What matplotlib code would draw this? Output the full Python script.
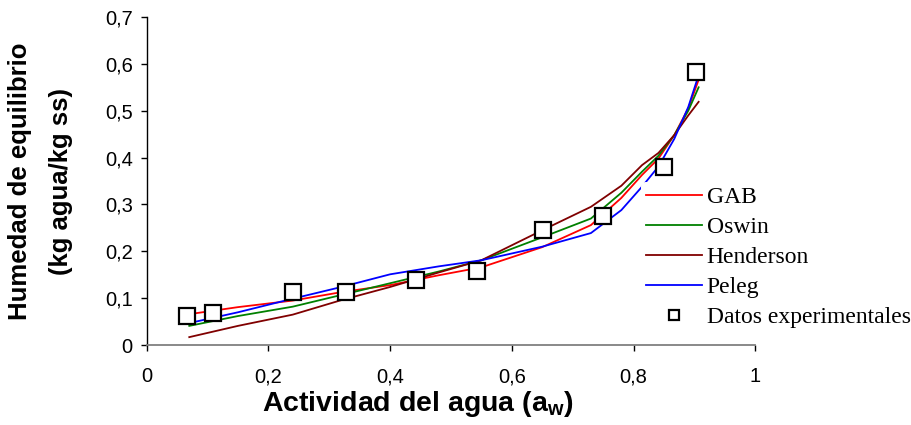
import numpy as np
import matplotlib.pyplot as plt
from matplotlib.ticker import FuncFormatter

# ── datos ──
aw_exp = [0.066, 0.109, 0.240, 0.327, 0.442, 0.543, 0.652, 0.750, 0.850, 0.903]
m_exp = [0.062, 0.068, 0.113, 0.113, 0.139, 0.158, 0.246, 0.275, 0.380, 0.582]

aw_mod = [0.07, 0.15, 0.24, 0.32, 0.40, 0.48, 0.55, 0.65, 0.73, 0.78,
          0.814, 0.841, 0.867, 0.89, 0.907]
gab = [0.066, 0.081, 0.095, 0.113, 0.128, 0.149, 0.166, 0.209, 0.256, 0.314,
       0.363, 0.398, 0.448, 0.505, 0.566]
oswin = [0.041, 0.062, 0.082, 0.107, 0.132, 0.157, 0.181, 0.230, 0.270, 0.325,
         0.370, 0.404, 0.448, 0.500, 0.550]
henderson = [0.017, 0.041, 0.065, 0.096, 0.124, 0.155, 0.181, 0.245, 0.295, 0.340,
             0.384, 0.410, 0.448, 0.490, 0.519]
peleg = [0.047, 0.070, 0.099, 0.124, 0.151, 0.168, 0.181, 0.210, 0.239, 0.288,
         0.338, 0.381, 0.440, 0.508, 0.576]

x_ticks = [0, 0.2, 0.4, 0.6, 0.8, 1]
y_ticks = [0, 0.1, 0.2, 0.3, 0.4, 0.5, 0.6, 0.7]

plt.rcParams['font.family'] = ['Liberation Sans', 'DejaVu Sans']

fig = plt.figure(figsize=(9.11, 4.25), dpi=100)
ax = fig.add_axes([0.161, 0.188, 0.668, 0.772])

ax.plot(aw_mod, gab, color='#ff0000', lw=1.3, label='GAB')
ax.plot(aw_mod, oswin, color='#008000', lw=1.3, label='Oswin')
ax.plot(aw_mod, henderson, color='#800000', lw=1.3, label='Henderson')
ax.plot(aw_mod, peleg, color='#0000ff', lw=1.3, label='Peleg')
ax.plot(aw_exp, m_exp, 's', ms=11.5, mfc='white', mec='black', mew=1.6,
        ls='none', label='Datos experimentales', zorder=5)

ax.set_xlim(0, 1)
ax.set_ylim(0, 0.7)
ax.set_xticks(x_ticks)
ax.set_yticks(y_ticks)
fmt = FuncFormatter(lambda v, p: ('%g' % round(v, 2)).replace('.', ','))
ax.xaxis.set_major_formatter(fmt)
ax.yaxis.set_major_formatter(fmt)
ax.tick_params(axis='both', labelsize=14.5, direction='out', length=4, width=1)
ax.tick_params(axis='x', pad=12)
ax.tick_params(axis='y', pad=6)
for s in ['top', 'right']:
    ax.spines[s].set_visible(False)
ax.spines['bottom'].set_color('#808080')
ax.spines['bottom'].set_linewidth(1.3)
ax.spines['left'].set_linewidth(1.0)

ax.set_xlabel('Actividad del agua (a$_\\mathregular{w}$)', fontsize=20.5,
              fontweight='bold')
ax.xaxis.set_label_coords(0.446, -0.135)
ax.set_ylabel('Humedad de equilibrio\n(kg agua/kg ss)', fontsize=18.5,
              fontweight='bold', labelpad=23, linespacing=1.9)

leg = fig.legend(*ax.get_legend_handles_labels(), loc='upper left',
                 bbox_to_anchor=(0.704, 0.572), bbox_transform=fig.transFigure,
                 frameon=True, facecolor='white', edgecolor='none', framealpha=1,
                 prop={'family': 'Liberation Serif', 'size': 17},
                 handlelength=2.36, handletextpad=0.2, labelspacing=0.36,
                 borderpad=0.2, borderaxespad=0, markerscale=0.65)
leg.set_zorder(10)

fig.savefig('out.png', dpi=100)
